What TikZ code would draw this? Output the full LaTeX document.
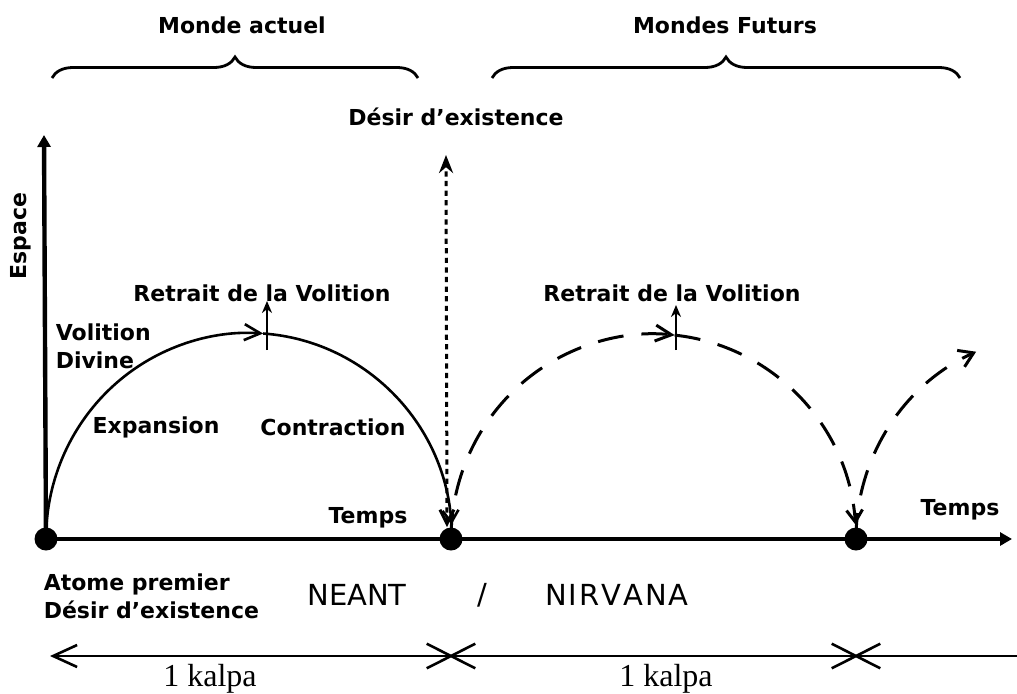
\documentclass[tikz,border=0pt]{standalone}
\usepackage{fontspec}
\setmainfont{DejaVu Sans}
\newfontfamily\kalpafont{Liberation Serif}
\usepackage{tikz}
\usetikzlibrary{positioning}
\usetikzlibrary{arrows, arrows.meta, decorations.pathreplacing, shapes.misc}
\tikzset{%
  txt/.style      = {font=\fontsize{11}{14}\selectfont\bfseries, inner sep=0pt},
  big/.style      = {font=\fontsize{14.5}{16}\selectfont, inner sep=0pt},
  kalpa/.style    = {font=\kalpafont\fontsize{16}{18}\selectfont, inner sep=0pt},
  bigdot/.style   = {circle, fill, inner sep=0pt, minimum size=11.5pt}, % Point
  axis/.style     = {line width=2.2pt},
  volition/.style = {line width=1.3pt},
  future/.style   = {line width=1.5pt, dash pattern=on 13pt off 9pt},
  desire/.style   = {line width=1.5pt, dash pattern=on 2.6pt off 2.2pt},
  wbrace/.style   = {decorate, decoration={brace, amplitude=10.5pt}, line width=1.4pt},
  cross/.style    = {cross out, draw, line width=1.3pt, minimum width=23pt,
    minimum height=11pt, inner sep=0pt},
  vbarb/.tip      = {Straight Barb[length=6pt, width=8pt]}
}

\begin{document}
\begin{tikzpicture}[x=0.5pt, y=0.5pt, thick, >={Triangle[length=6pt, width=6.5pt]}]

  \useasboundingbox (0,-154) rectangle (1017,539);

  \node at (46,0) [bigdot] (d1) {};
  \node at (451,0) [bigdot] (d2) {};
  \node at (856,0) [bigdot] (d3) {};

  \coordinate (ytop) at (44,404);
  \coordinate (xend) at (1012,0);
  \draw[axis, ->] (d1.center) -- (ytop);
  \draw[axis, ->] (d1.center) -- (xend);

  \node at (21,303) [txt, rotate=90] (espace) {Espace};
  \node at (368,21) [txt] (temps1) {Temps};
  \node at (960,29) [txt] (temps2) {Temps};

  % monde actuel
  \draw[volition, -{vbarb[length=8pt]}] (d1.center)
    arc[start angle=180, end angle=86, x radius=101.5pt, y radius=103pt] coordinate (p1);
  \draw[volition, -{vbarb}] (p1)
    arc[start angle=86, end angle=4, x radius=101.5pt, y radius=103pt];

  \coordinate (r1a) at (267,189);
  \coordinate (r1b) at (267,238);
  \draw[volition, -{Stealth[length=6pt, width=5pt]}] (r1a) -- (r1b);

  \node at (262,246) [txt] (retrait1) {Retrait de la Volition};
  \node at (55,193) [txt, align=left, anchor=west] (divine) {Volition\\Divine};
  \node at (156,112) [txt] (expansion) {Expansion};
  \node at (333,112) [txt] (contraction) {Contraction};

  % mondes futurs
  \draw[future, -{vbarb[length=8pt]}] (d2.center)
    arc[start angle=180, end angle=84, x radius=101.25pt, y radius=102.5pt] coordinate (p2);
  \draw[future, -{vbarb}] (p2)
    arc[start angle=84, end angle=4, x radius=101.25pt, y radius=102.5pt];
  \draw[future, -{vbarb[length=7pt, width=9pt]}] (d3.center)
    arc[start angle=180, end angle=114, x radius=101.25pt, y radius=102.5pt];

  \coordinate (r2a) at (676,189);
  \coordinate (r2b) at (676,234);
  \draw[volition, -{Stealth[length=6pt, width=5pt]}] (r2a) -- (r2b);

  \node at (672,246) [txt] (retrait2) {Retrait de la Volition};

  \coordinate (dtop) at (446,384);
  \coordinate (dbot) at (447,12);
  \draw[desire, {vbarb[length=7pt, width=7pt]}-{Stealth[length=9pt, width=7pt]}] (dbot) -- (dtop);
  \node at (456,422) [txt] (desir) {Désir d'existence};

  \draw[wbrace] (52,461) -- (418,461);
  \draw[wbrace] (492,461) -- (960,461);
  \node at (242,514) [txt] (actuel) {Monde actuel};
  \node at (725,514) [txt] (futurs) {Mondes Futurs};

  \node at (43,-57) [txt, align=left, anchor=west] (atome) {Atome premier\\Désir d'existence};
  \node at (357,-56) [big] (neant) {NEANT};
  \node at (482,-56) [big] (slash) {/};
  \node at (617,-56) [big] (nirvana) {N\kern1pt I\kern1pt R\kern1pt V\kern1pt A\kern1pt N\kern1pt A};

  % kalpas
  \coordinate (k0) at (50,-117);
  \coordinate (k3) at (1017,-117);
  \node at (451,-117) [cross] (x1) {};
  \node at (856,-117) [cross] (x2) {};
  \draw[line width=1.3pt, {Straight Barb[length=12pt, width=11pt]}-] (k0) -- (x1.center) -- (x2.center) -- (k3);
  \node at (210,-147) [kalpa, anchor=base] (kalpa1) {1 kalpa};
  \node at (666,-147) [kalpa, anchor=base] (kalpa2) {1 kalpa};

\end{tikzpicture}
\end{document}
